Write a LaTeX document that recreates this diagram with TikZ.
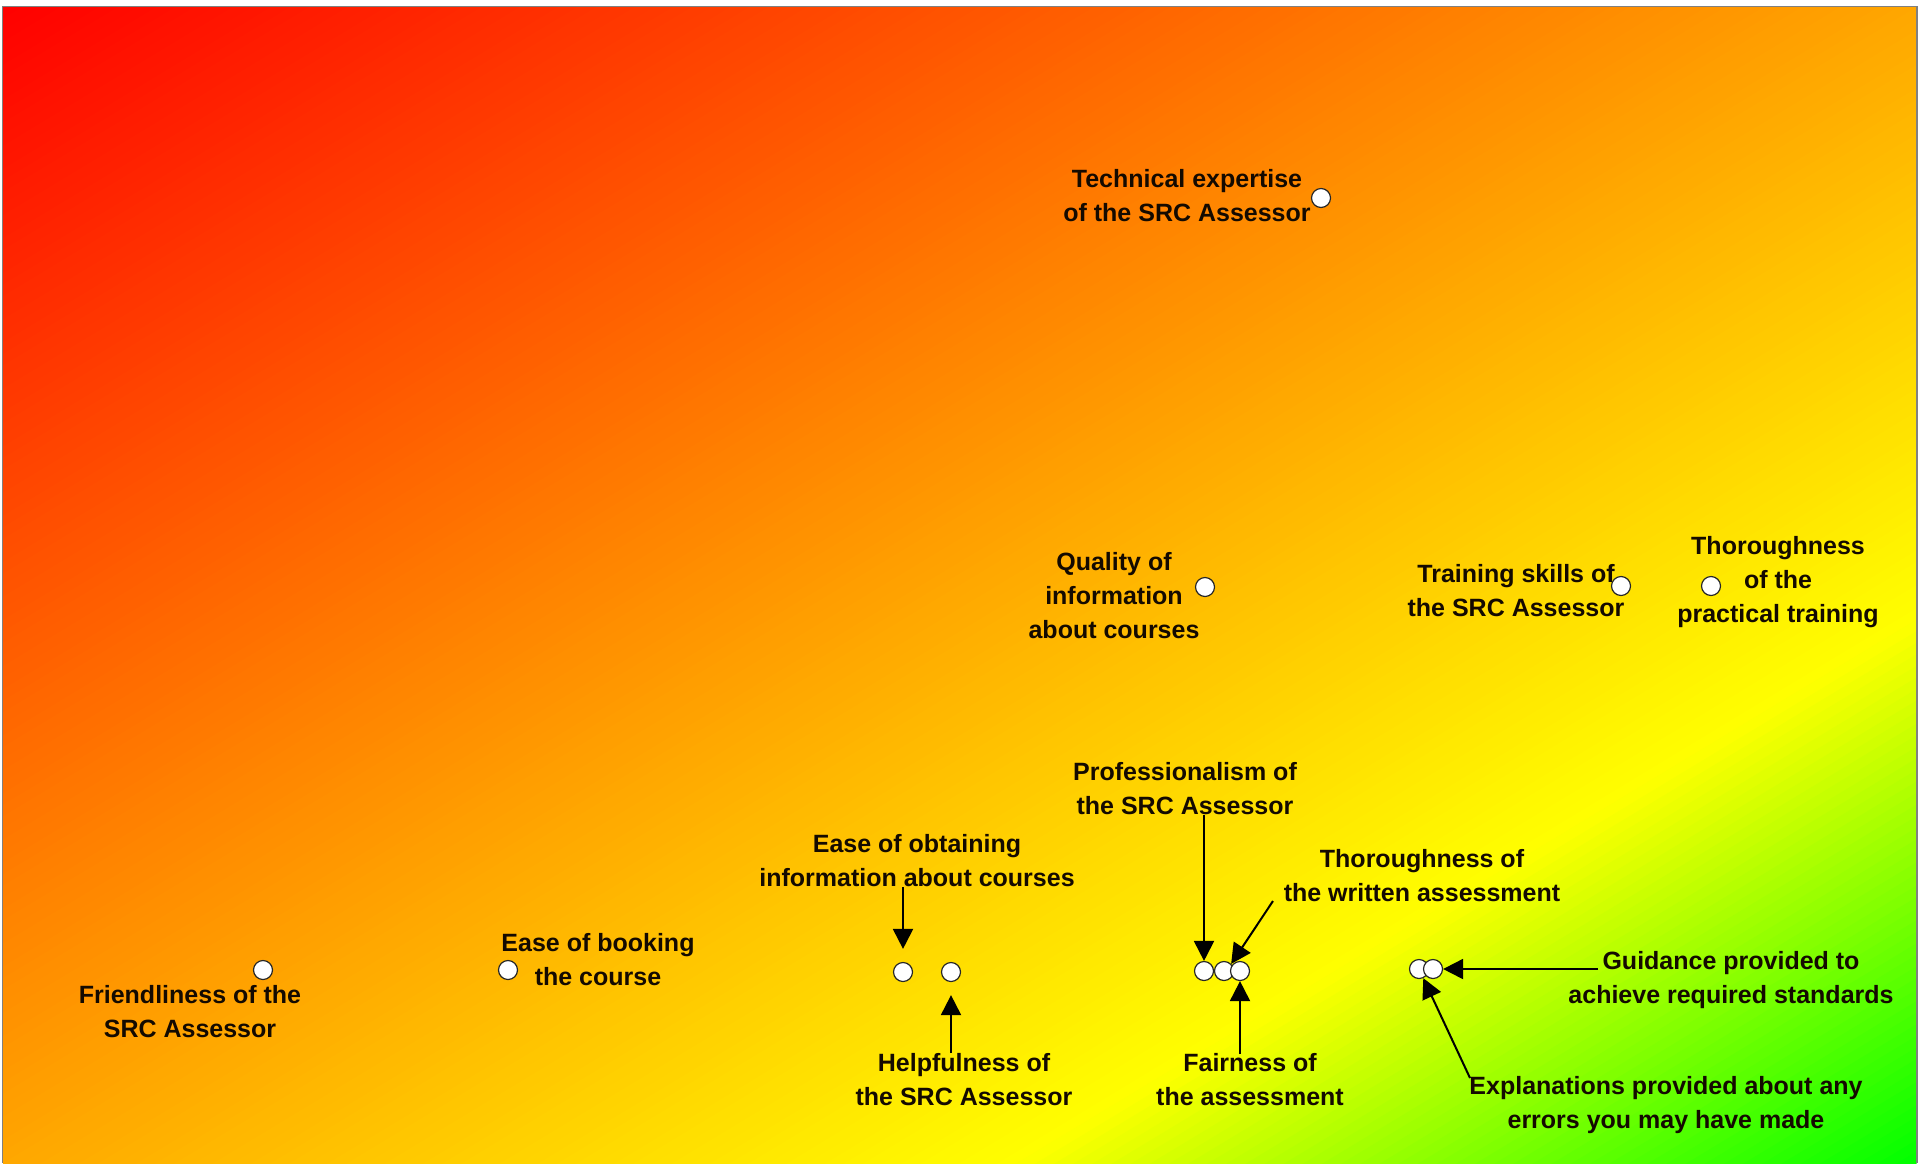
\documentclass[tikz,border=0pt]{standalone}
\usepackage{fontspec}
\setmainfont{Liberation Sans}
\usetikzlibrary{arrows.meta}
\definecolor{txt}{RGB}{20,10,0}
\begin{document}
\begin{tikzpicture}[x=1pt,y=-1pt,
  lbl/.style={font=\fontsize{25}{34}\selectfont\bfseries, align=center, text=txt, inner sep=0pt},
  dot/.style={circle, draw=black!85, fill=white, line width=1.2pt, minimum size=19pt, inner sep=0pt},
  arr/.style={draw=black, line width=2pt, -{Triangle[length=20pt,width=20pt]}}]
\useasboundingbox (0,0) rectangle (1921,1163);
\fill[white] (0,0) rectangle (1921,1163);
% diagonal gradient: red (top left) -> orange -> yellow -> green (bottom right)
\begin{scope}
\clip (3,7) rectangle (1916.5,1163);
\foreach \i in {0,...,199} {
  \pgfmathsetmacro{\ta}{\i/100}
  \pgfmathsetmacro{\tb}{(\i+1.8)/100}
  \pgfmathsetmacro{\tm}{(\i+0.5)/100}
  \pgfmathsetmacro{\rr}{min(1,(2-\tm)/0.47)}
  \pgfmathsetmacro{\gg}{min(1,\tm/1.53)}
  \definecolor{stripc}{rgb}{\rr,\gg,0}
  \fill[stripc] ({3+\ta*1913.5},7) -- ({3+\tb*1913.5},7) -- (3,{7+\tb*1156}) -- (3,{7+\ta*1156}) -- cycle;
}
\end{scope}
\draw[gray, line width=1.5pt] (2.5,1163) -- (2.5,6.5) -- (1917,6.5) -- (1917,1163);

% labels
\node[lbl] (ltech) at (1187,196) {Technical expertise\\of the SRC Assessor};
\node[lbl] (lqual) at (1114,596) {Quality of\\information\\about courses};
\node[lbl] (ltrain) at (1516,591) {Training skills of\\the SRC Assessor};
\node[lbl] (lthp) at (1778,582) {Thoroughness\\of the\\practical training};
\node[lbl] (lprof) at (1185,789) {Professionalism of\\the SRC Assessor};
\node[lbl] (lthw) at (1422,876) {Thoroughness of\\the written assessment};
\node[lbl] (lfair) at (1250,1080) {Fairness of\\the assessment};
\node[lbl] (lguid) at (1731,980) {Guidance provided to\\achieve required standards};
\node[lbl] (lexpl) at (1666,1105) {Explanations provided about any\\errors you may have made};
\node[lbl] (leob) at (917,861) {Ease of obtaining\\information about courses};
\node[lbl] (lhelp) at (964,1080) {Helpfulness of\\the SRC Assessor};
\node[lbl] (lbook) at (598,960) {Ease of booking\\the course};
\node[lbl] (lfriend) at (190,1012) {Friendliness of the\\SRC Assessor};

% circles
\node[dot] (ctech) at (1321,198) {};
\node[dot] (cqual) at (1205,587) {};
\node[dot] (ctrain) at (1621,586) {};
\node[dot] (cthp) at (1711,586) {};
\node[dot] (cp1) at (1204,971) {};
\node[dot] (cp2) at (1224,971) {};
\node[dot] (cp3) at (1240,971) {};
\node[dot] (cg1) at (1419,969) {};
\node[dot] (cg2) at (1433,969) {};
\node[dot] (ce1) at (903,972) {};
\node[dot] (ce2) at (951,972) {};
\node[dot] (cbook) at (508,970) {};
\node[dot] (cfriend) at (263,970) {};

% connector free ends
\coordinate (aprof) at (1204,815);
\coordinate (athw) at (1273,901);
\coordinate (afair) at (1240,1054);
\coordinate (aguid) at (1598,969);
\coordinate (aexpl) at (1470,1078);
\coordinate (aeob) at (903,887);
\coordinate (ahelp) at (951,1053);

\draw[arr] (aprof) -- (cp1.north);
\draw[arr] (athw) -- (cp2.north east);
\draw[arr] (afair) -- (cp3.south);
\draw[arr] (aguid) -- (cg2.east);
\draw[arr] (aexpl) -- (cg1);
\draw[arr, shorten >=13pt] (aeob) -- (ce1.north);
\draw[arr, shorten >=13pt] (ahelp) -- (ce2.south);
\end{tikzpicture}
\end{document}
